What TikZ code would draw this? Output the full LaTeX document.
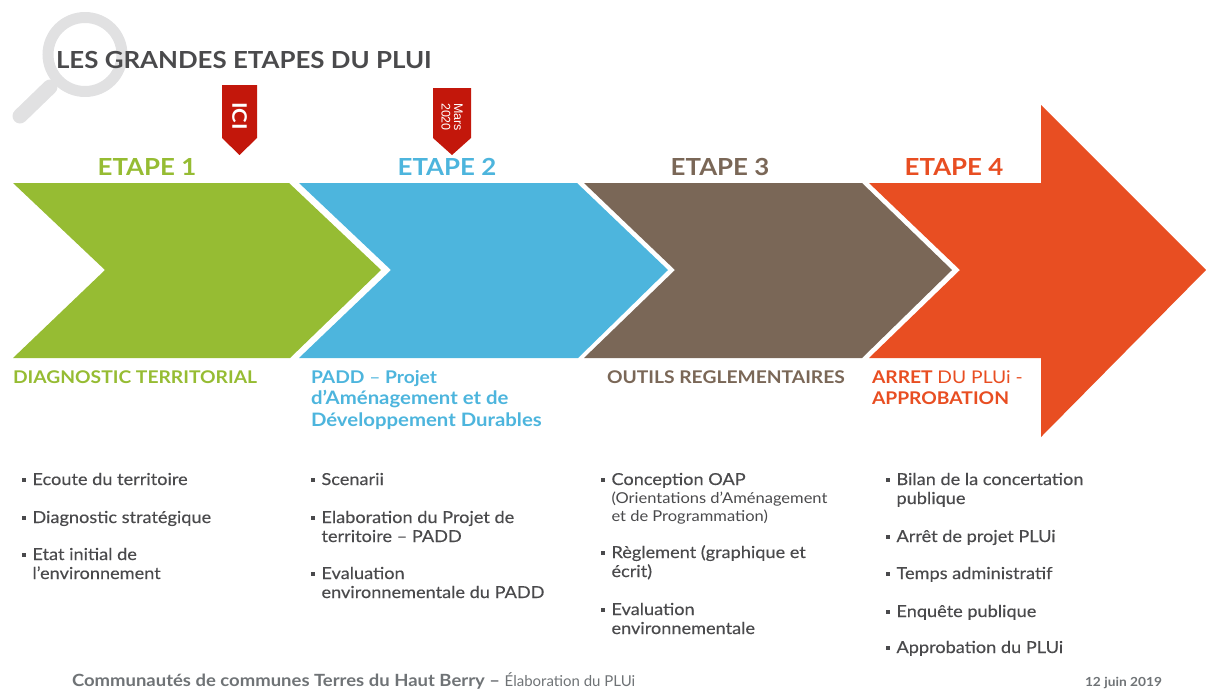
\documentclass[tikz,border=0pt]{standalone}
\usepackage{fontspec}
\setmainfont{Lato}[FakeStretch=1.1]
\newfontfamily\plainlato{Lato}
\newfontfamily\bodylato{Lato}[FakeStretch=1.1,FakeBold=0.25]
\newfontfamily\flaglato{Liberation Sans}
\definecolor{cgreen}{HTML}{96BC33}
\definecolor{cblue}{HTML}{4DB5DD}
\definecolor{cbrown}{HTML}{7A6757}
\definecolor{corange}{HTML}{E84E22}
\definecolor{cred}{HTML}{C3170B}
\definecolor{cdark}{HTML}{4A4A4C}
\definecolor{cglass}{HTML}{E1E1E2}
\definecolor{cfoot}{HTML}{6F7376}
\newcommand{\bul}{\makebox[10.5pt][l]{\raisebox{3.5pt}{\rule{4pt}{4pt}}}}
\newcommand{\hng}{\hspace*{10.5pt}}
\tikzset{
  x=1pt,y=-1pt,
  every node/.style={inner sep=0pt,outer sep=0pt},
  title/.style={anchor=base west,font=\fontsize{23.5}{28}\selectfont\bfseries,text=cdark},
  etape/.style={anchor=base,font=\fontsize{23.5}{28}\selectfont\bfseries},
  head/.style={anchor=north west,align=left,font=\fontsize{17.5}{21.5}\selectfont\bfseries},
  itm/.style={anchor=north west,align=left,text=cdark,font=\bodylato\fontsize{16.5}{19}\selectfont},
  chev/.style={draw=none},
  flag/.style={fill=cred,draw=none},
  foot/.style={anchor=base west,text=cfoot},
}
\newcommand{\strt}{\rule{0pt}{13.3pt}}
\newcommand{\hstrt}{\rule{0pt}{15pt}}
\newcommand{\wid}{\fontsize{18.5}{21.5}\selectfont}
\begin{document}
\begin{tikzpicture}
\useasboundingbox (0,0) rectangle (1206,688);
\clip (0,0) rectangle (1206,688);
% magnifier
\draw[cglass,line width=11pt] (85,54.5) circle (37);
\draw[cglass,line width=15pt,line cap=round] (50,87) -- (20,116);
% title
\node[title] (title) at (56,68) {LES GRANDES ETAPES DU PLUI};
% flags
\fill[flag] (222,85) -- (257,85) -- (257,138) -- (239.5,155) -- (222,138) -- cycle;
\node[rotate=-90,text=white,font=\fontsize{20}{20}\selectfont\bfseries] (ici) at (239.5,116) {ICI};
\fill[flag] (433,88) -- (471,88) -- (471,138) -- (452,155) -- (433,138) -- cycle;
\node[rotate=-90,text=white,align=center,font=\flaglato\fontsize{12.5}{12.5}\selectfont] (mars) at (452,117) {Mars\\2020};
% chevrons
\fill[cgreen,chev] (13,183) -- (289,183) -- (381,270) -- (290,358) -- (13,358) -- (105,270) -- cycle;
\fill[cblue,chev] (299,183) -- (577,183) -- (668,270) -- (578,358) -- (299,358) -- (391,270) -- cycle;
\fill[cbrown,chev] (584,183) -- (862,183) -- (952,270) -- (862,358) -- (584,358) -- (675,270) -- cycle;
\fill[corange,chev] (869,183) -- (1041,183) -- (1041,105) -- (1206,270) -- (1041,437) -- (1041,358) -- (869,358) -- (960,270) -- cycle;
% etapes
\node[etape,text=cgreen] (e1) at (147,175) {ETAPE 1};
\node[etape,text=cblue] (e2) at (447,175) {ETAPE 2};
\node[etape,text=cbrown] (e3) at (720,175) {ETAPE 3};
\node[etape,text=corange] (e4) at (954,175) {ETAPE 4};
% headings
\node[head,text=cgreen] (h1) at (13,368) {\hstrt DIAGNOSTIC TERRITORIAL};
\node[head,text=cblue] (h2) at (311,368) {\hstrt PADD {\mdseries –} Projet\\{\wid d’Aménagement et de}\\{\wid Développement Durables}};
\node[head,text=cbrown] (h3) at (607,368) {\hstrt OUTILS REGLEMENTAIRES};
\node[head,text=corange] (h4) at (872,368) {\hstrt ARRET {\mdseries DU PLUi -}\\APPROBATION};
% column 1
\node[itm] (a1) at (22,471.7) {\strt\bul Ecoute du territoire};
\node[itm] (a2) at (22,509.7) {\strt\bul Diagnostic stratégique};
\node[itm] (a3) at (22,546.7) {\strt\bul Etat initial de\\\hng l’environnement};
% column 2
\node[itm] (b1) at (311,471.7) {\strt\bul Scenarii};
\node[itm] (b2) at (311,509.7) {\strt\bul Elaboration du Projet de\\\hng territoire – PADD};
\node[itm] (b3) at (311,565.7) {\strt\bul Evaluation\\\hng environnementale du PADD};
% column 3
\node[itm] (c1) at (601,471.7) {\strt\bul Conception OAP\\[-1pt]\hng{\normalfont\fontsize{15}{18}\selectfont (Orientations d’Aménagement}\\[-1pt]\hng{\normalfont\fontsize{15}{18}\selectfont et de Programmation)}};
\node[itm] (c2) at (601,544.7) {\strt\bul Règlement (graphique et\\\hng écrit)};
\node[itm] (c3) at (601,601.7) {\strt\bul Evaluation\\\hng environnementale};
% column 4
\node[itm] (d1) at (886,471.7) {\strt\bul Bilan de la concertation\\\hng publique};
\node[itm] (d2) at (886,528.7) {\strt\bul Arrêt de projet PLUi};
\node[itm] (d3) at (886,565.7) {\strt\bul Temps administratif};
\node[itm] (d4) at (886,603.7) {\strt\bul Enquête publique};
\node[itm] (d5) at (886,639.7) {\strt\bul Approbation du PLUi};
% footer
\node[foot,font=\fontsize{16.8}{18}\selectfont] (f1) at (72,686) {\textbf{Communautés de communes Terres du Haut Berry –} {\plainlato\fontsize{15}{18}\selectfont Élaboration du PLUi}};
\node[foot,font=\fontsize{12.5}{14}\selectfont\bfseries] (f2) at (1085,686) {12 juin 2019};
\end{tikzpicture}
\end{document}
